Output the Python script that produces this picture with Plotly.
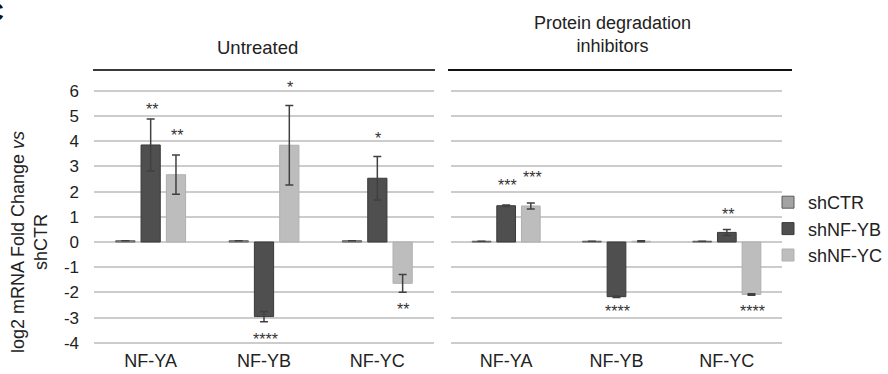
import plotly.graph_objects as go

categories = ["NF-YA", "NF-YB", "NF-YC"]
series_names = ["shCTR", "shNF-YB", "shNF-YC"]
y_ticks = [-4, -3, -2, -1, 0, 1, 2, 3, 4, 5, 6]

# Untreated panel
untreated_vals = {
    "shCTR": [0.05, 0.05, 0.05],
    "shNF-YB": [3.85, -2.96, 2.53],
    "shNF-YC": [2.67, 3.84, -1.64],
}
untreated_err = {
    "shCTR": [0.0, 0.0, 0.0],
    "shNF-YB": [1.03, 0.2, 0.86],
    "shNF-YC": [0.78, 1.58, 0.35],
}
untreated_sig = {
    "shCTR": ["", "", ""],
    "shNF-YB": ["**", "****", "*"],
    "shNF-YC": ["**", "*", "**"],
}
untreated_sig_y = {
    "shCTR": [None, None, None],
    "shNF-YB": [5.3, -3.8, 4.15],
    "shNF-YC": [4.3, 6.2, -2.6],
}

# Protein degradation inhibitors panel
inhib_vals = {
    "shCTR": [0.03, 0.03, 0.03],
    "shNF-YB": [1.44, -2.17, 0.38],
    "shNF-YC": [1.43, 0.03, -2.08],
}
inhib_err = {
    "shCTR": [0.0, 0.0, 0.0],
    "shNF-YB": [0.03, 0.03, 0.12],
    "shNF-YC": [0.12, 0.02, 0.03],
}
inhib_sig = {
    "shCTR": ["", "", ""],
    "shNF-YB": ["***", "****", "**"],
    "shNF-YC": ["***", "", "****"],
}
inhib_sig_y = {
    "shCTR": [None, None, None],
    "shNF-YB": [2.3, -2.7, 1.15],
    "shNF-YC": [2.62, None, -2.7],
}

fill_colors = {"shCTR": "#a3a3a3", "shNF-YB": "#4f4f4f", "shNF-YC": "#bdbdbd"}
line_colors = {"shCTR": "#5a5a5a", "shNF-YB": "#3a3a3a", "shNF-YC": "#b0b0b0"}

W, H = 888, 374
FONT = "Liberation Sans, Arial, sans-serif"
TXT = "#222222"
UNIT = 25.2     # pixels per y unit
ZERO_PX = 242   # pixel row of y = 0

def px(x):
    return x / W

def py(y):
    return 1 - y / H

fig = go.Figure()

for vals, errs, xa, ya, show in [
    (untreated_vals, untreated_err, "x", "y", True),
    (inhib_vals, inhib_err, "x2", "y2", False),
]:
    for s in series_names:
        fig.add_trace(go.Bar(
            x=categories, y=vals[s], name=s,
            xaxis=xa, yaxis=ya, showlegend=show, legendgroup=s,
            marker=dict(color=fill_colors[s], line=dict(color=line_colors[s], width=1)),
            error_y=dict(type="data", array=errs[s], visible=True,
                         color="#404040", thickness=1.5, width=4),
            offsetgroup=s,
        ))

annotations = []
slot = 25
for sig, sig_y, xr, yr in [
    (untreated_sig, untreated_sig_y, "x", "y"),
    (inhib_sig, inhib_sig_y, "x2", "y2"),
]:
    for i, s in enumerate(series_names):
        for j, c in enumerate(categories):
            if sig[s][j]:
                annotations.append(dict(
                    x=c, y=sig_y[s][j], xref=xr, yref=yr, text=sig[s][j],
                    showarrow=False, xshift=(i - 1) * slot + 1, yshift=-1.5,
                    font=dict(size=16, color="#333333", family=FONT),
                    yanchor="middle", xanchor="center",
                ))

annotations += [
    dict(x=px(257), y=py(47), xref="paper", yref="paper", text="Untreated",
         xanchor="center", yanchor="middle",
         showarrow=False, font=dict(size=18.5, color=TXT, family=FONT)),
    dict(x=px(612), y=py(34), xref="paper", yref="paper",
         text="Protein degradation<br>inhibitors",
         xanchor="center", yanchor="middle",
         showarrow=False, font=dict(size=18, color=TXT, family=FONT)),
    dict(x=px(29), y=py(242), xref="paper", yref="paper",
         text="log2 mRNA Fold Change <i>vs</i><br>shCTR", textangle=-90,
         xanchor="center", yanchor="middle",
         showarrow=False, font=dict(size=18, color=TXT, family=FONT)),
    dict(x=px(-17), y=py(-5), xref="paper", yref="paper", text="<b>C</b>",
         showarrow=False, xanchor="left", yanchor="top",
         font=dict(size=26, color="#111", family=FONT)),
]

shapes = [
    dict(type="line", xref="paper", yref="paper", x0=px(93), x1=px(435),
         y0=py(70), y1=py(70), line=dict(color="#3a3a3a", width=2)),
    dict(type="line", xref="paper", yref="paper", x0=px(448), x1=px(792),
         y0=py(70), y1=py(70), line=dict(color="#111111", width=2)),
]

y_lo, y_hi = -4.05, 6.45
yrange = [y_lo, y_hi]
ydom = [py(ZERO_PX - y_lo * UNIT), py(ZERO_PX - y_hi * UNIT)]

axis_common_y = dict(
    range=yrange, domain=ydom, tickvals=y_ticks, automargin=False,
    showgrid=True, gridcolor="#cccccc", gridwidth=1.5,
    zeroline=True, zerolinecolor="#cccccc", zerolinewidth=1.5,
    showline=False, ticks="",
)
axis_common_x = dict(showgrid=False, showline=False, ticks="", automargin=False,
                     ticklabelstandoff=4,
                     tickfont=dict(size=18, color=TXT, family=FONT))

fig.update_layout(
    width=W, height=H,
    margin=dict(l=0, r=0, t=0, b=0, autoexpand=False),
    paper_bgcolor="white", plot_bgcolor="white",
    barmode="group", bargap=0.33, bargroupgap=0.24,
    font=dict(family=FONT, color=TXT),
    xaxis=dict(domain=[px(94), px(434)], anchor="y", **axis_common_x),
    xaxis2=dict(domain=[px(451), px(782)], anchor="y2", **axis_common_x),
    yaxis=dict(anchor="x", tickfont=dict(size=17, color=TXT, family=FONT),
               ticktext=[str(v) for v in y_ticks],
               ticklabelstandoff=14, **axis_common_y),
    yaxis2=dict(anchor="x2", showticklabels=False, **axis_common_y),
    legend=dict(x=px(768), y=py(184), xanchor="left", yanchor="top",
                font=dict(size=18, color=TXT, family=FONT),
                bgcolor="rgba(0,0,0,0)", itemwidth=30, tracegroupgap=0),
    annotations=annotations,
    shapes=shapes,
)

fig.write_html("out.html")
